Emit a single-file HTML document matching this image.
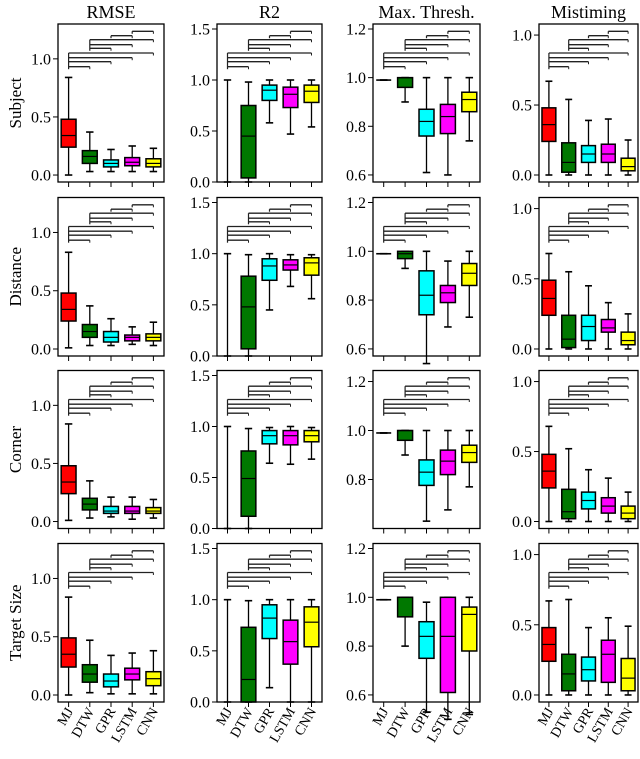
<!DOCTYPE html>
<html><head><meta charset="utf-8">
<style>
html,body{margin:0;padding:0;background:#fff;}
svg, svg text{font-family:"Liberation Serif","Times New Roman","DejaVu Serif",serif;}
</style></head>
<body>
<svg id="fig" width="640" height="754" viewBox="0 0 640 754" xmlns="http://www.w3.org/2000/svg" font-family="Liberation Serif, Times New Roman, DejaVu Serif, serif"></svg>
<script>
const models = ["MJ","DTW","GPR","LSTM","CNN"];
const colors = ["#ff0000","#007800","#00ffff","#ff00ff","#ffff00"];
const metrics = ["RMSE","R2","Max. Thresh.","Mistiming"];
const rowsLabels = ["Subject","Distance","Corner","Target Size"];
const metricTicks = [[0,0.5,1.0],[0,0.5,1.0,1.5],[0.6,0.8,1.0,1.2],[0,0.5,1.0]];
const tickText = [["0.0","0.5","1.0"],["0.0","0.5","1.0","1.5"],["0.6","0.8","1.0","1.2"],["0.0","0.5","1.0"]];
// box stats per model: [min, q1, median, q3, max]
const subjRMSE = [[0,0.24,0.34,0.48,0.84],[0.03,0.10,0.16,0.21,0.37],[0.03,0.07,0.10,0.13,0.22],[0.03,0.08,0.11,0.15,0.25],[0.03,0.07,0.10,0.14,0.23]];
const subjR2 = [[0,1,1,1,1],[0,0.04,0.45,0.75,0.98],[0.58,0.80,0.90,0.95,1.0],[0.47,0.73,0.86,0.93,1.0],[0.54,0.78,0.89,0.95,1.0]];
const subjMax = [[0.99,0.99,0.99,0.99,0.99],[0.90,0.96,1.0,1.0,1.0],[0.61,0.76,0.82,0.87,1.0],[0.60,0.77,0.84,0.89,1.0],[0.74,0.86,0.91,0.94,1.0]];
const subjMis = [[0,0.24,0.36,0.48,0.67],[0,0.02,0.09,0.23,0.54],[0,0.09,0.15,0.21,0.39],[0,0.09,0.15,0.22,0.40],[0,0.03,0.06,0.12,0.25]];
const distRMSE = [[0.01,0.24,0.34,0.48,0.83],[0.03,0.10,0.15,0.21,0.37],[0.03,0.06,0.10,0.15,0.26],[0.04,0.07,0.10,0.12,0.19],[0.03,0.07,0.10,0.13,0.23]];
const distR2 = [[0,1,1,1,1],[0,0.07,0.48,0.78,0.99],[0.45,0.74,0.88,0.95,1.0],[0.68,0.84,0.89,0.94,0.99],[0.56,0.79,0.91,0.96,0.99]];
const distMax = [[0.99,0.99,0.99,0.99,0.99],[0.93,0.97,0.99,1.0,1.0],[0.54,0.74,0.82,0.92,1.0],[0.69,0.79,0.83,0.86,0.96],[0.73,0.86,0.91,0.95,1.0]];
const distMis = [[0,0.24,0.36,0.49,0.68],[0,0.01,0.07,0.24,0.55],[0,0.06,0.16,0.24,0.45],[0,0.12,0.15,0.21,0.33],[0,0.03,0.06,0.12,0.25]];
const cornRMSE = [[0.01,0.24,0.34,0.48,0.84],[0.03,0.10,0.15,0.20,0.35],[0.04,0.07,0.09,0.13,0.21],[0.02,0.07,0.09,0.13,0.21],[0.03,0.07,0.09,0.12,0.19]];
const cornR2 = [[0,1,1,1,1],[0,0.12,0.49,0.76,0.98],[0.64,0.83,0.91,0.96,0.99],[0.63,0.82,0.91,0.96,1.0],[0.68,0.85,0.91,0.96,0.99]];
const cornMax = [[0.99,0.99,0.99,0.99,0.99],[0.90,0.96,1.0,1.0,1.0],[0.63,0.776,0.83,0.88,1.0],[0.676,0.82,0.875,0.92,1.0],[0.77,0.87,0.91,0.94,1.0]];
const cornMis = [[0,0.24,0.36,0.48,0.68],[0,0.02,0.07,0.23,0.52],[0,0.09,0.15,0.21,0.37],[0,0.06,0.11,0.17,0.31],[0,0.02,0.06,0.11,0.21]];
const sizeRMSE = [[0,0.24,0.35,0.49,0.84],[0.02,0.11,0.18,0.26,0.47],[0.01,0.07,0.12,0.18,0.34],[0.01,0.13,0.18,0.23,0.36],[0.01,0.08,0.14,0.20,0.38]];
const sizeR2 = [[0,1,1,1,1],[0,0,0.22,0.73,0.99],[0.14,0.62,0.82,0.95,1.0],[0,0.37,0.59,0.80,1.0],[0,0.54,0.78,0.93,1.0]];
const sizeMax = [[0.99,0.99,0.99,0.99,0.99],[0.80,0.92,1.0,1.0,1.0],[0.53,0.75,0.84,0.90,0.98],[0.50,0.61,0.84,1.0,1.0],[0.52,0.78,0.93,0.96,1.0]];
const sizeMis = [[0,0.24,0.36,0.48,0.67],[0,0.03,0.15,0.29,0.68],[0,0.10,0.18,0.27,0.48],[0,0.09,0.29,0.39,0.55],[0,0.03,0.12,0.26,0.49]];
const panelData = [[subjRMSE,subjR2,subjMax,subjMis],[distRMSE,distR2,distMax,distMis],[cornRMSE,cornR2,cornMax,cornMis],[sizeRMSE,sizeR2,sizeMax,sizeMis]];
const domains = [[-0.06,1.30],[0,1.549],[0.571,1.2205],[-0.05,1.079]];

const NS="http://www.w3.org/2000/svg";
const svg=document.getElementById('fig');
const FF="Liberation Serif, Times New Roman, DejaVu Serif, serif";
function mk(tag,attrs,parent){const e=document.createElementNS(NS,tag);for(const k in attrs)e.setAttribute(k,attrs[k]);if(tag==='text')e.setAttribute('font-family',FF);(parent||svg).appendChild(e);return e;}

const colL=[58,217,373,539], colR=[164,322,480,638];
const rowT=[24,197.5,370.5,543.5], rowB=[182,356,528.5,702];
const pairs=[[0,1],[0,2],[0,3],[0,4],[1,2],[1,3],[1,4],[2,3],[3,4]];
const pairOff=[42.7,37.7,33.7,29,24.3,20.7,15.7,11.7,7.3];

metrics.forEach((m,c)=>{
  const t=mk('text',{x:(colL[c]+colR[c])/2,y:18,'text-anchor':'middle','font-size':'18'});
  t.textContent=m;
  
  
});
rowsLabels.forEach((r,ri)=>{
  const cy=(rowT[ri]+rowB[ri])/2;
  const t=mk('text',{x:0,y:0,'text-anchor':'middle','font-size':'17',transform:`translate(21,${cy}) rotate(-90)`});
  t.textContent=r;
  
  
});

for(let r=0;r<4;r++){
  for(let c=0;c<4;c++){
    const g=mk('g',{});
    
    
    const L=colL[c],R=colR[c],T=rowT[r],B=rowB[r];
    let d0=domains[c][0],d1=domains[c][1];
    if(c===2&&r===2){d0=0.6;d1=1.245;}
    const y=v=>B-(v-d0)/(d1-d0)*(B-T);
    const w=(R-L)/5;
    const x=i=>L+w*(i+0.5);
    metricTicks[c].forEach((tv,ti)=>{
      if(c===2&&r===2&&tv===0.6)return;
      const yy=y(tv);
      mk('line',{x1:L-5,x2:L,y1:yy,y2:yy,stroke:'#000','stroke-width':1},g);
      const t=mk('text',{x:L-7,y:yy+5.5,'text-anchor':'end','font-size':'16'},g);
      t.textContent=tickText[c][ti];
      
      
    });
    models.forEach((mn,i)=>{
      mk('line',{x1:x(i),x2:x(i),y1:B,y2:B+5,stroke:'#000','stroke-width':1},g);
      if(r===3){
        const t=mk('text',{x:0,y:0,'text-anchor':'end','font-size':'14',transform:`translate(${x(i)+5},${B+9}) rotate(-60)`},g);
        t.textContent=mn;
        
        
      }
    });
    const data=panelData[r][c];
    data.forEach((s,i)=>{
      const cx=x(i),bw=w*0.7,cw=w*0.35;
      const bg=mk('g',{},g);
      
      
      mk('line',{x1:cx,x2:cx,y1:y(s[0]),y2:y(s[1]),stroke:'#000','stroke-width':1.3},bg);
      mk('line',{x1:cx,x2:cx,y1:y(s[3]),y2:y(s[4]),stroke:'#000','stroke-width':1.3},bg);
      mk('line',{x1:cx-cw/2,x2:cx+cw/2,y1:y(s[0]),y2:y(s[0]),stroke:'#000','stroke-width':1.6},bg);
      mk('line',{x1:cx-cw/2,x2:cx+cw/2,y1:y(s[4]),y2:y(s[4]),stroke:'#000','stroke-width':1.6},bg);
      if(i===0&&c===2){
        mk('line',{x1:cx-cw,x2:cx+cw,y1:y(s[2]),y2:y(s[2]),stroke:'#000','stroke-width':1.6},bg);
      } else if(s[3]>s[1]){
        mk('rect',{x:cx-bw/2,y:y(s[3]),width:bw,height:y(s[1])-y(s[3]),fill:colors[i],stroke:'#000','stroke-width':1.5},bg);
        mk('line',{x1:cx-bw/2,x2:cx+bw/2,y1:y(s[2]),y2:y(s[2]),stroke:'#000','stroke-width':1.2},bg);
      }
    });
    const verts={};
    pairs.forEach((p,k)=>{
      const yy=T+pairOff[k];
      mk('line',{x1:x(p[0]),x2:x(p[1]),y1:yy,y2:yy,stroke:'#222','stroke-width':1.3},g);
      mk('line',{x1:x(p[1]),x2:x(p[1]),y1:yy,y2:yy+2.5,stroke:'#222','stroke-width':1},g);
      const a=p[0];
      if(!verts[a])verts[a]=[yy,yy];
      verts[a][0]=Math.min(verts[a][0],yy);verts[a][1]=Math.max(verts[a][1],yy);
    });
    for(const a in verts){
      mk('line',{x1:x(+a),x2:x(+a),y1:verts[a][0],y2:verts[a][1]+2.5,stroke:'#222','stroke-width':1.2},g);
    }
    const fr=mk('rect',{x:L,y:T,width:R-L,height:B-T,fill:'none',stroke:'#000','stroke-width':1.3},g);
    
    
  }
}
</script>
</body></html>
